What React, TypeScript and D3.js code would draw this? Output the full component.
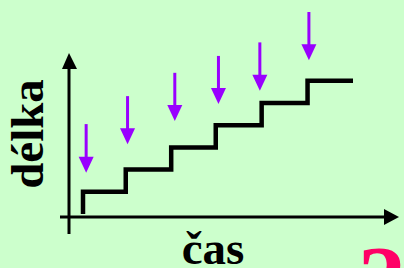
import React from "react";
import * as d3 from "d3";

const W = 404;
const H = 268;

// step function: times where a step occurs, and level after step
const stepTimes = [0, 0.95, 1.96, 2.95, 3.97, 4.99, 6];
const stepLevels = [1, 2, 3, 4, 5, 6, 6];
// arrows: time position, tip level and top level
const arrowTimes = [0.07, 0.99, 2.04, 3.01, 3.93, 5.02];
const arrowTips = [1.86, 3.14, 4.19, 4.95, 5.55, 6.93];
const arrowTops = [4.05, 5.31, 6.36, 7.12, 7.73, 9.1];

const xLabel = "čas";
const yLabel = "délka";

export default function App() {
  const x = d3.scaleLinear().domain([0, 6]).range([83, 353]);
  const y = d3.scaleLinear().domain([0, 6]).range([214, 80.8]);

  const pts: [number, number][] = [[stepTimes[0], 0]];
  stepTimes.forEach((t, i) => pts.push([t, stepLevels[i]]));
  const line = d3
    .line<[number, number]>()
    .x((d) => x(d[0]))
    .y((d) => y(d[1]))
    .curve(d3.curveStepAfter);

  const purple = "#9900FF";
  const axisY0 = 217;
  const axisX0 = 69;

  return (
    <svg
      width={W}
      height={H}
      style={{ position: "absolute", left: 0, top: 0, display: "block" }}
    >
      <rect width={W} height={H} fill="#CCFFCC" />
      {/* axes */}
      <line x1={60} x2={386} y1={axisY0} y2={axisY0} stroke="#000" strokeWidth={3} />
      <path d={`M399,${axisY0} L384,209 L384,225 Z`} fill="#000" />
      <line x1={axisX0} x2={axisX0} y1={234} y2={66} stroke="#000" strokeWidth={3} />
      <path d={`M${axisX0},53 L62,69 L77,69 Z`} fill="#000" />
      {/* step line */}
      <path d={line(pts) || ""} fill="none" stroke="#000" strokeWidth={4.5} strokeLinejoin="miter" strokeLinecap="butt" />
      {/* arrows */}
      {arrowTimes.map((t, i) => {
        const ax = x(t);
        const tip = y(arrowTips[i]);
        const top = y(arrowTops[i]);
        return (
          <g key={i}>
            <line x1={ax} x2={ax} y1={top} y2={tip - 14} stroke={purple} strokeWidth={3} />
            <path d={`M${ax},${tip} L${ax - 7.5},${tip - 16} L${ax + 7.5},${tip - 16} Z`} fill={purple} />
          </g>
        );
      })}
      {/* labels */}
      <text
        x={213}
        y={264}
        textAnchor="middle"
        fontFamily="'Liberation Serif', 'DejaVu Serif', serif"
        fontWeight="bold"
        fontSize={47}
        fill="#000"
      >
        {xLabel}
      </text>
      <text
        transform="translate(43,134) rotate(-90)"
        textAnchor="middle"
        fontFamily="'Liberation Serif', 'DejaVu Serif', serif"
        fontWeight="bold"
        fontSize={47}
        fill="#000"
      >
        {yLabel}
      </text>
      <text
        x={358}
        y={312}
        fontFamily="'Liberation Serif', 'DejaVu Serif', serif"
        fontWeight="bold"
        fontSize={96}
        fill="#FF0066"
      >
        ?
      </text>
    </svg>
  );
}
